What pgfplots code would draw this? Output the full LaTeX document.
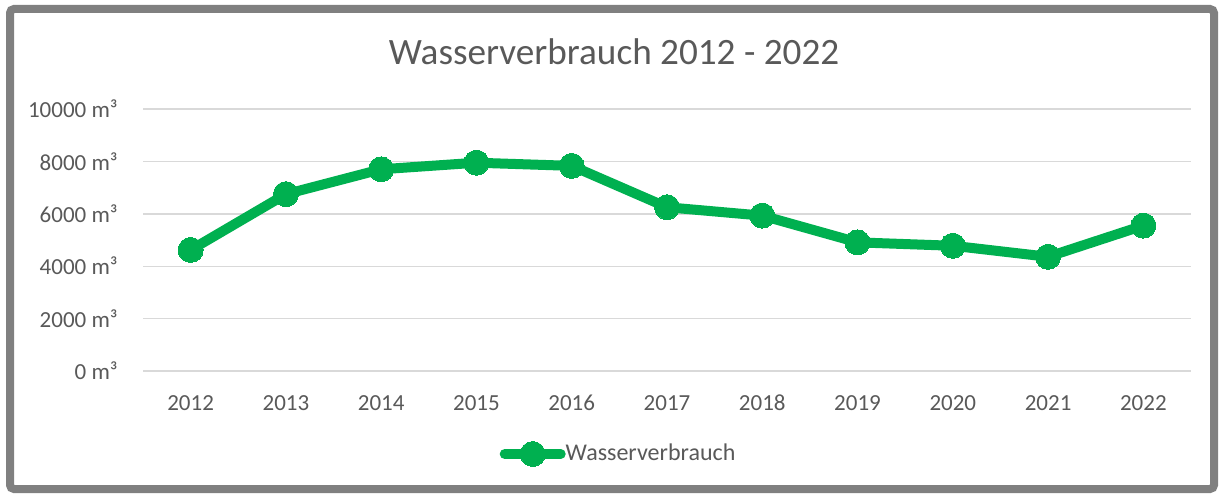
\documentclass[border=0pt]{standalone}
\usepackage{fontspec}
\setmainfont{Carlito}
\usepackage{pgfplots}
\pgfplotsset{compat=1.18}
\definecolor{lgreen}{HTML}{00B050}
\definecolor{txt}{HTML}{595959}
\definecolor{gridc}{HTML}{D9D9D9}
\definecolor{framec}{HTML}{808080}
\begin{document}
\begin{tikzpicture}
\path[use as bounding box] (0,0) rectangle (610pt,247pt);
\draw[framec, line width=4pt, rounded corners=2pt] (5pt,2.5pt) rectangle (607pt,242.5pt);
\node[txt, font=\fontsize{18.6}{22}\selectfont] at (307pt,221pt) {Wasserverbrauch 2012 - 2022};
\begin{axis}[
  at={(71.5pt,61.5pt)}, anchor=south west, scale only axis,
  width=524pt, height=131pt,
  xmin=2011.5, xmax=2022.5, ymin=0, ymax=10000,
  xtick={2012,2013,2014,2015,2016,2017,2018,2019,2020,2021,2022},
  ytick={0,2000,4000,6000,8000,10000},
  scaled ticks=false,
  /pgf/number format/assume math mode=true,
  /pgf/number format/1000 sep={},
  axis line style={draw=none},
  ymajorgrids, major grid style={gridc, line width=0.7pt},
  major tick length=0pt, tick style={draw=none},
  tick label style={txt, font=\fontsize{11.5}{13}\selectfont},
  xticklabel={\pgfmathprintnumber{\tick}},
  yticklabel={\pgfmathprintnumber{\tick} m³},
  yticklabel style={anchor=east, inner sep=0pt, xshift=-12.5pt},
  xticklabel style={anchor=base, inner sep=0pt, yshift=-19.5pt},
  clip=false,
  legend style={at={(0.3400,-0.3168)}, anchor=west, draw=none, fill=none,
    inner sep=0pt, font=\fontsize{12}{14}\selectfont, text=txt,
    nodes={inner sep=0pt}},
  legend image code/.code={\draw[mark repeat=2,mark phase=2,#1] plot coordinates {(1pt,0pt) (15pt,0pt) (29pt,0pt)};},
]
\addplot[lgreen, line width=5pt, line cap=round, line join=round, mark=*, mark size=6.25pt,
  mark options={fill=lgreen, draw=lgreen, line width=0pt}]
  coordinates {
  (2012,4620) (2013,6750) (2014,7700) (2015,7950) (2016,7830) (2017,6250)
  (2018,5930) (2019,4910) (2020,4780) (2021,4360) (2022,5550)
  };
\legend{Wasserverbrauch}
\end{axis}
\end{tikzpicture}
\end{document}
